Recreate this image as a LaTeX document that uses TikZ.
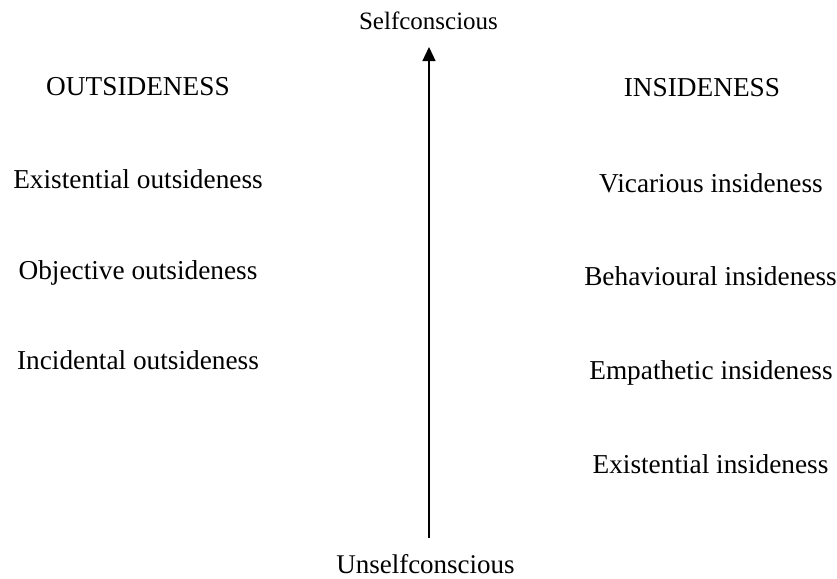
\documentclass[tikz,border=0pt]{standalone}
\usepackage{fontspec}
\setmainfont{Liberation Serif}
\usetikzlibrary{arrows.meta}
\begin{document}
\begin{tikzpicture}[x=1pt,y=-1pt,
  lbl/.style={anchor=base,inner sep=0pt,font=\fontsize{27.3}{30}\selectfont},
  axislbl/.style={anchor=base,inner sep=0pt,font=\fontsize{25}{30}\selectfont}]
\useasboundingbox[fill=white] (0,0) rectangle (837,578);
\node[axislbl] (self) at (428.5,29.5) {Selfconscious};
\node[axislbl,font=\fontsize{27}{30}\selectfont] (unself) at (425.5,573) {Unselfconscious};
\node[lbl] (out) at (138,95.5) {OUTSIDENESS};
\node[lbl] (ins) at (702,96) {INSIDENESS};
\node[lbl] (eo) at (138,188) {Existential outsideness};
\node[lbl] (oo) at (138,279) {Objective outsideness};
\node[lbl] (io) at (138,369) {Incidental outsideness};
\node[lbl] (vi) at (711,192) {Vicarious insideness};
\node[lbl] (bi) at (710.5,285) {Behavioural insideness};
\node[lbl] (ei) at (711,379) {Empathetic insideness};
\node[lbl] (xi) at (710.5,473) {Existential insideness};
\coordinate (bot) at (429,538);
\coordinate (top) at (429,47);
\draw[line width=1.2pt,-{Triangle[length=14pt,width=13pt]}] (bot) -- (top);
\end{tikzpicture}
\end{document}
